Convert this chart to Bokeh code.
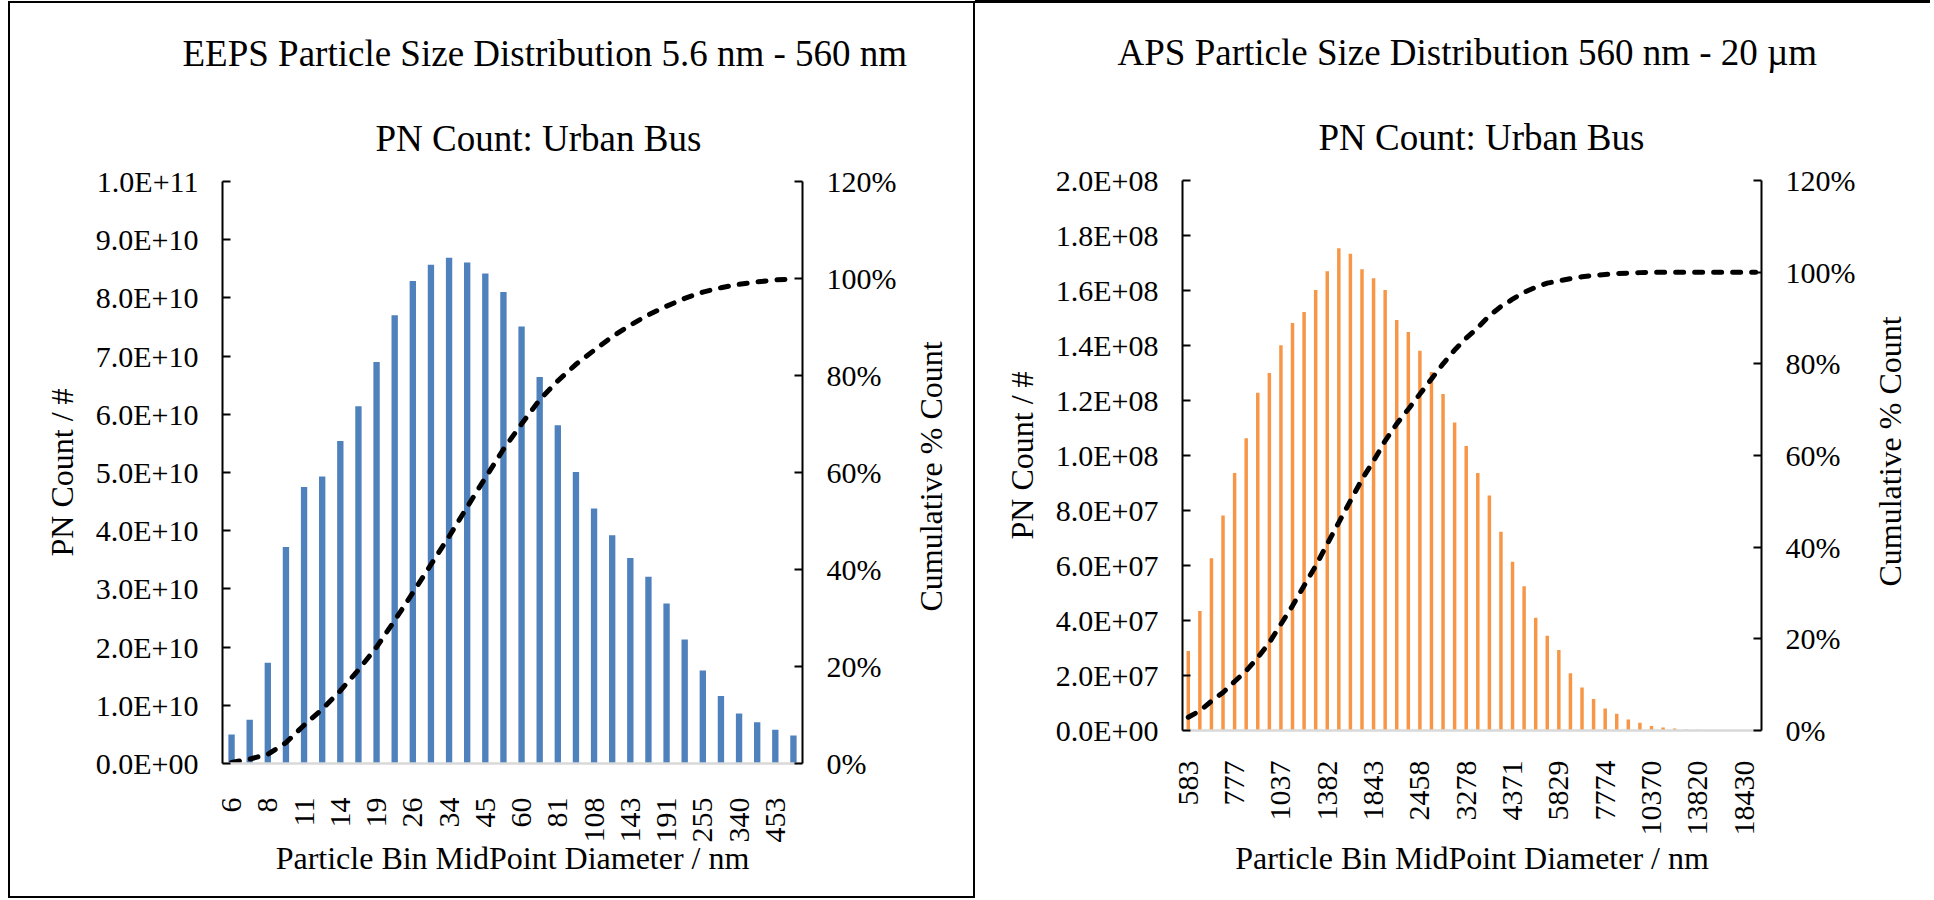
import math
from bokeh.plotting import figure
from bokeh.models import Range1d, LinearAxis, FixedTicker, CustomJSTickFormatter, Title, Plot
from bokeh.layouts import row
from bokeh.embed import file_html
from bokeh.resources import INLINE

# ---------------- data ----------------
eeps_bins = ["6.04", "6.98", "8.06", "9.31", "10.8", "12.4", "14.3", "16.5", "19.1", "22.1",
             "25.5", "29.4", "34.0", "39.2", "45.3", "52.3", "60.4", "69.8", "80.6", "93.1",
             "107.5", "124.1", "143.3", "165.5", "191.1", "220.7", "254.8", "294.3", "339.8",
             "392.4", "453.2", "523.3"]
eeps_tick_labels = ["6", "8", "11", "14", "19", "26", "34", "45", "60", "81", "108", "143",
                    "191", "255", "340", "453"]
eeps_counts = [5.0e9, 7.5e9, 1.73e10, 3.72e10, 4.75e10, 4.93e10, 5.54e10, 6.14e10, 6.90e10,
               7.70e10, 8.29e10, 8.57e10, 8.69e10, 8.61e10, 8.42e10, 8.10e10, 7.51e10, 6.64e10,
               5.81e10, 5.01e10, 4.38e10, 3.92e10, 3.53e10, 3.21e10, 2.75e10, 2.13e10, 1.60e10,
               1.16e10, 8.6e9, 7.1e9, 5.8e9, 4.8e9]
eeps_cum_pct = [0.2, 0.9, 1.9, 4.3, 7.9, 11.2, 15.0, 19.3, 24.0, 29.5, 35.2, 41.0, 46.8, 52.9,
                58.9, 64.8, 70.0, 75.0, 78.9, 82.3, 85.2, 88.0, 90.4, 92.5, 94.3, 95.9, 97.2,
                98.1, 98.8, 99.3, 99.7, 99.9]

aps_bins = ["583", "626", "673", "723", "777", "835", "898", "965", "1037", "1114", "1197",
            "1286", "1382", "1486", "1596", "1715", "1843", "1981", "2129", "2288", "2458",
            "2642", "2839", "3051", "3278", "3523", "3786", "4068", "4371", "4698", "5048",
            "5425", "5829", "6264", "6732", "7234", "7774", "8354", "8977", "9647", "10370",
            "11140", "11970", "12860", "13820", "14860", "15960", "17150", "18430", "19810"]
aps_tick_labels = ["583", "777", "1037", "1382", "1843", "2458", "3278", "4371", "5829",
                   "7774", "10370", "13820", "18430"]
aps_counts = [2.89e7, 4.35e7, 6.26e7, 7.82e7, 9.36e7, 1.063e8, 1.228e8, 1.300e8, 1.401e8,
              1.482e8, 1.522e8, 1.602e8, 1.670e8, 1.754e8, 1.734e8, 1.677e8, 1.645e8, 1.602e8,
              1.493e8, 1.449e8, 1.381e8, 1.304e8, 1.224e8, 1.120e8, 1.035e8, 9.36e7, 8.55e7,
              7.23e7, 6.14e7, 5.25e7, 4.10e7, 3.45e7, 2.93e7, 2.08e7, 1.56e7, 1.15e7, 8.0e6,
              6.1e6, 4.0e6, 2.8e6, 1.6e6, 1.1e6, 7e5, 4e5, 3e5, 0, 0, 0, 0, 0]
aps_cum_pct = [2.9, 4.3, 6.4, 8.3, 10.7, 13.0, 15.9, 19.2, 23.2, 27.2, 31.6, 35.9, 40.7, 45.4,
               50.1, 54.8, 58.8, 63.2, 66.9, 70.1, 73.4, 76.7, 80.0, 83.0, 85.6, 87.9, 90.5,
               92.5, 94.1, 95.6, 96.7, 97.6, 98.1, 98.6, 99.0, 99.3, 99.5, 99.7, 99.8, 99.9,
               100, 100, 100, 100, 100, 100, 100, 100, 100, 100]

FONT = "Liberation Serif"
TICK_FS = "30px"
LABEL_FS = "32px"
TITLE_FS = "37px"
RIGHT_LABEL = "Cumulative % Count"

sci_fmt = CustomJSTickFormatter(code="""
    var s = tick.toExponential(1).toUpperCase();
    var m = s.match(/^(.*E[+-])(\\d+)$/);
    if (m && m[2].length < 2) { s = m[1] + "0" + m[2]; }
    return s;
""")
pct_fmt = CustomJSTickFormatter(code="return tick.toFixed(0) + '%';")

HAS_FRAME_ALIGN = "frame_align" in Plot.properties()
AXIS_PROPS = LinearAxis.properties()


def style_axis_text(ax):
    ax.major_label_text_font = FONT
    ax.major_label_text_font_size = TICK_FS
    ax.major_label_text_color = "black"
    ax.axis_label_text_font = FONT
    ax.axis_label_text_font_size = LABEL_FS
    ax.axis_label_text_font_style = "normal"
    ax.axis_label_text_color = "black"


def make_panel(bins, tick_labels, tick_step, counts, cum, color, bar_width,
               y_max, y_step, title, subtitle, frame_w, frame_h, mb, title_offset,
               subtitle_offset, x_label_standoff, x_tick_standoff, margin, styles,
               right_label_pad):
    n = len(bins)
    idx = list(range(n))
    p = figure(frame_width=frame_w, frame_height=frame_h, output_backend="svg",
               toolbar_location=None,
               x_range=Range1d(-0.5, n - 0.5), y_range=Range1d(0, y_max),
               min_border_left=mb[0], min_border_right=mb[1], min_border_top=mb[2],
               min_border_bottom=mb[3], margin=margin, styles=styles)
    if HAS_FRAME_ALIGN:
        p.frame_align = False
    p.outline_line_color = None
    p.xgrid.visible = False
    p.ygrid.visible = False
    p.background_fill_color = "white"
    p.border_fill_color = "white"

    p.extra_y_ranges = {"pct": Range1d(0, 120)}

    p.vbar(x=idx, top=counts, width=bar_width, fill_color=color, line_color=None)
    p.line(x=idx, y=cum, y_range_name="pct", line_color="black", line_width=5,
           line_dash="8 11", line_cap="round", line_join="round")

    # x axis
    xa = p.xaxis[0]
    xa.ticker = FixedTicker(ticks=idx[::tick_step])
    xa.major_label_overrides = {i * tick_step: lab for i, lab in enumerate(tick_labels)}
    xa.major_label_orientation = math.pi / 2
    xa.major_tick_line_color = None
    xa.minor_tick_line_color = None
    xa.axis_line_color = "#d9d9d9"
    xa.axis_line_width = 2.5
    xa.major_label_standoff = x_tick_standoff
    xa.axis_label = "Particle Bin MidPoint Diameter / nm"
    xa.axis_label_standoff = x_label_standoff
    style_axis_text(xa)

    # left y axis
    ya = p.yaxis[0]
    nticks = int(round(y_max / y_step))
    ya.ticker = FixedTicker(ticks=[k * y_step for k in range(nticks + 1)])
    ya.formatter = sci_fmt
    ya.major_tick_in = 8
    ya.major_tick_out = 0
    ya.minor_tick_line_color = None
    ya.axis_line_width = 2
    ya.major_tick_line_width = 2
    ya.axis_line_color = "black"
    ya.major_tick_line_color = "black"
    ya.major_label_standoff = 24
    ya.axis_label = "PN Count / #"
    ya.axis_label_standoff = 13
    style_axis_text(ya)

    # right y axis (label reads bottom-to-top, as in the reference)
    ra = LinearAxis(y_range_name="pct", ticker=FixedTicker(ticks=list(range(0, 121, 20))),
                    formatter=pct_fmt)
    ra.major_tick_in = 8
    ra.major_tick_out = 0
    ra.minor_tick_line_color = None
    ra.axis_line_width = 2
    ra.major_tick_line_width = 2
    ra.axis_line_color = "black"
    ra.major_tick_line_color = "black"
    ra.major_label_standoff = 24
    style_axis_text(ra)
    ra.axis_label_standoff = 32
    if "axis_label_orientation" in AXIS_PROPS and "axis_label_align" in AXIS_PROPS:
        ra.axis_label_orientation = math.pi / 2
        ra.axis_label_align = "start"
        ra.axis_label = "\u00a0" * right_label_pad + RIGHT_LABEL
    else:
        ra.axis_label = RIGHT_LABEL
    p.add_layout(ra, "right")

    sub = Title(text=subtitle, text_font=FONT, text_font_size=TITLE_FS,
                text_font_style="normal", text_color="black", align="left",
                offset=subtitle_offset, standoff=46)
    p.add_layout(sub, "above")
    main = Title(text=title, text_font=FONT, text_font_size=TITLE_FS,
                 text_font_style="normal", text_color="black", align="left",
                 offset=title_offset, standoff=38)
    p.add_layout(main, "above")
    return p


left = make_panel(eeps_bins, eeps_tick_labels, 2, eeps_counts, eeps_cum_pct, "#4F81BD", 0.35,
                  1e11, 1e10, "EEPS Particle Size Distribution 5.6 nm - 560 nm",
                  "PN Count: Urban Bus", 580, 582, (212, 171, 178, 133), -40, 153,
                  -6, 28, (3, 0, 0, 10), {"box-shadow": "0 0 0 2px black"}, 19)

right = make_panel(aps_bins, aps_tick_labels, 4, aps_counts, aps_cum_pct, "#F79646", 0.3,
                   2e8, 2e7, "APS Particle Size Distribution 560 nm - 20 \u00b5m",
                   "PN Count: Urban Bus", 579, 550, (207, 169, 177, 166), -65, 136,
                   1, 24, (3, 0, 0, 2), {"box-shadow": "0 -3px 0 0 black"}, 18)

layout = row(left, right, spacing=0)
open("out.html", "w").write(file_html(layout, INLINE))
